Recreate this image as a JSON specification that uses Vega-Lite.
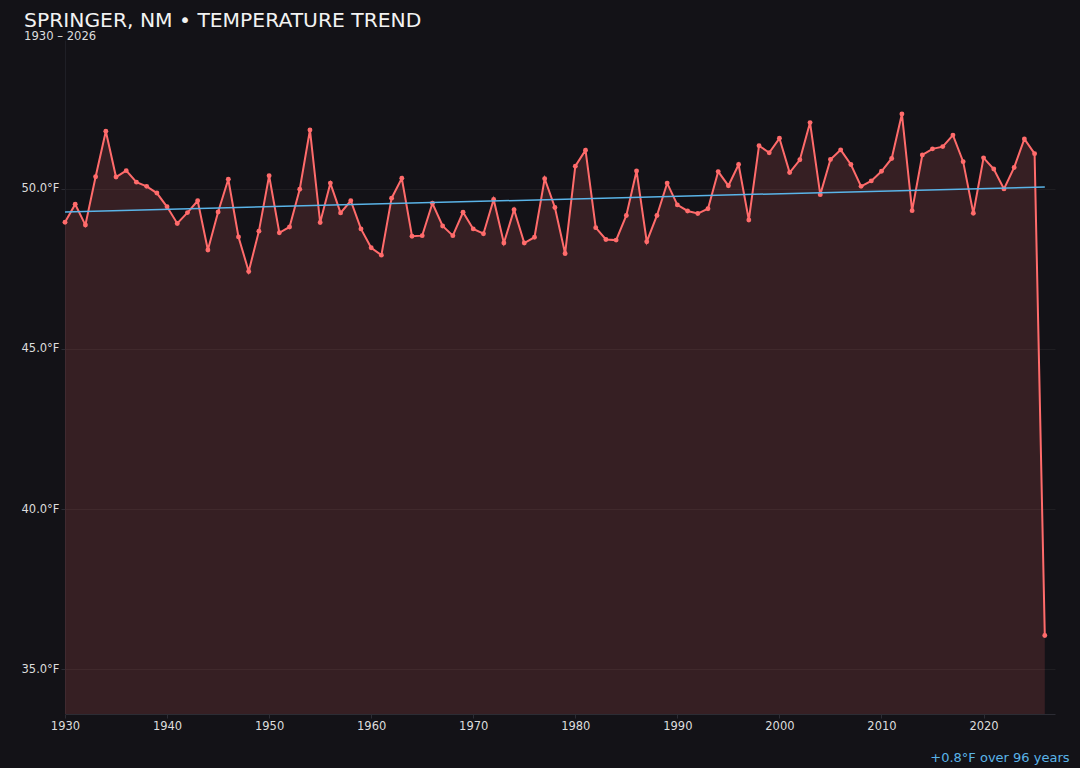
{
  "$schema": "https://vega.github.io/schema/vega-lite/v6.json",
  "width": 990,
  "height": 674,
  "autosize": "none",
  "padding": {"left": 65, "top": 40, "right": 25, "bottom": 54},
  "background": "#131217",
  "title": {
    "text": "SPRINGER, NM • TEMPERATURE TREND",
    "subtitle": "1930 – 2026",
    "anchor": "start",
    "frame": "bounds",
    "font": "DejaVu Sans",
    "fontSize": 20.3,
    "fontWeight": "normal",
    "color": "#f2f2f2",
    "subtitleFont": "DejaVu Sans",
    "subtitleFontSize": 11.6,
    "subtitleColor": "#dddddd",
    "subtitlePadding": 0,
    "offset": -1,
    "dx": 3,
    "dy": 2
  },
  "config": {
    "font": "DejaVu Sans",
    "view": {"stroke": null},
    "axis": {
      "labelFont": "DejaVu Sans",
      "labelFontSize": 11.5,
      "labelColor": "#dddddd",
      "labelFlush": false,
      "domainColor": "#2c2c34",
      "tickColor": "#2c2c34",
      "tickSize": 4,
      "gridColor": "#ffffff",
      "gridOpacity": 0.05
    }
  },
  "datasets": {
    "temps": [
      {"year": 1930, "temp": 48.96}, {"year": 1931, "temp": 49.52}, {"year": 1932, "temp": 48.87},
      {"year": 1933, "temp": 50.38}, {"year": 1934, "temp": 51.80}, {"year": 1935, "temp": 50.37},
      {"year": 1936, "temp": 50.57}, {"year": 1937, "temp": 50.21}, {"year": 1938, "temp": 50.08},
      {"year": 1939, "temp": 49.87}, {"year": 1940, "temp": 49.44}, {"year": 1941, "temp": 48.92},
      {"year": 1942, "temp": 49.26}, {"year": 1943, "temp": 49.63}, {"year": 1944, "temp": 48.09},
      {"year": 1945, "temp": 49.28}, {"year": 1946, "temp": 50.30}, {"year": 1947, "temp": 48.50},
      {"year": 1948, "temp": 47.42}, {"year": 1949, "temp": 48.68}, {"year": 1950, "temp": 50.41},
      {"year": 1951, "temp": 48.63}, {"year": 1952, "temp": 48.81}, {"year": 1953, "temp": 49.99},
      {"year": 1954, "temp": 51.84}, {"year": 1955, "temp": 48.95}, {"year": 1956, "temp": 50.18},
      {"year": 1957, "temp": 49.25}, {"year": 1958, "temp": 49.63}, {"year": 1959, "temp": 48.75},
      {"year": 1960, "temp": 48.16}, {"year": 1961, "temp": 47.93}, {"year": 1962, "temp": 49.71},
      {"year": 1963, "temp": 50.33}, {"year": 1964, "temp": 48.52}, {"year": 1965, "temp": 48.54},
      {"year": 1966, "temp": 49.55}, {"year": 1967, "temp": 48.84}, {"year": 1968, "temp": 48.54},
      {"year": 1969, "temp": 49.27}, {"year": 1970, "temp": 48.75}, {"year": 1971, "temp": 48.60},
      {"year": 1972, "temp": 49.67}, {"year": 1973, "temp": 48.31}, {"year": 1974, "temp": 49.35},
      {"year": 1975, "temp": 48.31}, {"year": 1976, "temp": 48.49}, {"year": 1977, "temp": 50.32},
      {"year": 1978, "temp": 49.42}, {"year": 1979, "temp": 47.98}, {"year": 1980, "temp": 50.71},
      {"year": 1981, "temp": 51.21}, {"year": 1982, "temp": 48.79}, {"year": 1983, "temp": 48.42},
      {"year": 1984, "temp": 48.40}, {"year": 1985, "temp": 49.17}, {"year": 1986, "temp": 50.56},
      {"year": 1987, "temp": 48.35}, {"year": 1988, "temp": 49.17}, {"year": 1989, "temp": 50.18},
      {"year": 1990, "temp": 49.50}, {"year": 1991, "temp": 49.31}, {"year": 1992, "temp": 49.23},
      {"year": 1993, "temp": 49.38}, {"year": 1994, "temp": 50.54}, {"year": 1995, "temp": 50.10},
      {"year": 1996, "temp": 50.76}, {"year": 1997, "temp": 49.03}, {"year": 1998, "temp": 51.35},
      {"year": 1999, "temp": 51.13}, {"year": 2000, "temp": 51.58}, {"year": 2001, "temp": 50.51},
      {"year": 2002, "temp": 50.91}, {"year": 2003, "temp": 52.07}, {"year": 2004, "temp": 49.82},
      {"year": 2005, "temp": 50.92}, {"year": 2006, "temp": 51.22}, {"year": 2007, "temp": 50.76},
      {"year": 2008, "temp": 50.08}, {"year": 2009, "temp": 50.25}, {"year": 2010, "temp": 50.55},
      {"year": 2011, "temp": 50.95}, {"year": 2012, "temp": 52.34}, {"year": 2013, "temp": 49.32},
      {"year": 2014, "temp": 51.06}, {"year": 2015, "temp": 51.25}, {"year": 2016, "temp": 51.32},
      {"year": 2017, "temp": 51.68}, {"year": 2018, "temp": 50.85}, {"year": 2019, "temp": 49.24},
      {"year": 2020, "temp": 50.97}, {"year": 2021, "temp": 50.62}, {"year": 2022, "temp": 50.00},
      {"year": 2023, "temp": 50.67}, {"year": 2024, "temp": 51.56}, {"year": 2025, "temp": 51.10},
      {"year": 2026, "temp": 36.05}
    ],
    "trend": [
      {"year": 1930, "temp": 49.28},
      {"year": 2026, "temp": 50.06}
    ]
  },
  "encoding": {
    "x": {
      "field": "year",
      "type": "quantitative",
      "scale": {"domain": [1930, 2027], "nice": false, "zero": false},
      "axis": {
        "values": [1930, 1940, 1950, 1960, 1970, 1980, 1990, 2000, 2010, 2020],
        "format": "d",
        "grid": false,
        "labelPadding": 2,
        "title": "+0.8°F over 96 years",
        "titleFont": "DejaVu Sans",
        "titleFontSize": 13,
        "titleFontWeight": "normal",
        "titleColor": "#5ab4e8",
        "titleAnchor": "end",
        "titleAlign": "right",
        "titleBaseline": "alphabetic",
        "titleX": 1004,
        "titleY": 47
      }
    },
    "y": {
      "field": "temp",
      "type": "quantitative",
      "scale": {"domain": [33.6, 54.65], "nice": false, "zero": false},
      "axis": {
        "values": [35, 40, 45, 50],
        "labelExpr": "format(datum.value, '.1f') + '°F'",
        "grid": true,
        "labelPadding": 2,
        "domainColor": "#1f1f26",
        "title": null
      }
    }
  },
  "layer": [
    {
      "data": {"name": "temps"},
      "mark": {"type": "area", "color": "#ff6b6b", "opacity": 0.15, "clip": true}
    },
    {
      "data": {"name": "temps"},
      "mark": {"type": "line", "color": "#ff6b6b", "strokeWidth": 2}
    },
    {
      "data": {"name": "temps"},
      "mark": {"type": "point", "filled": true, "color": "#ff6b6b", "size": 24, "opacity": 1}
    },
    {
      "data": {"name": "trend"},
      "mark": {"type": "line", "color": "#5ab4e8", "strokeWidth": 1.5}
    }
  ]
}
